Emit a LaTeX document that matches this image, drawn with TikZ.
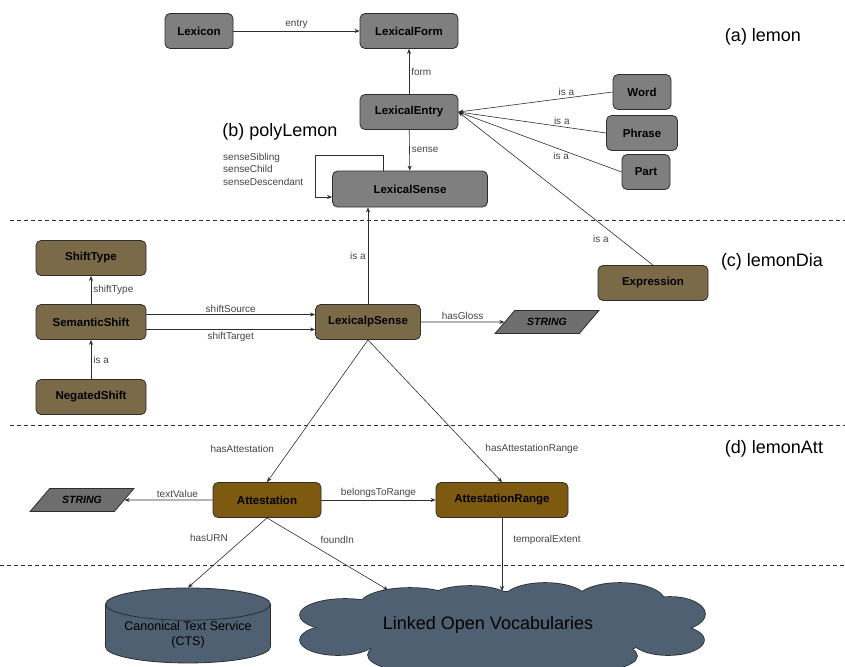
\documentclass[tikz,border=0pt]{standalone}
\usepackage{fontspec}
\setmainfont{Liberation Sans}
\usetikzlibrary{arrows.meta,positioning,calc,shapes.geometric}
\definecolor{lemongray}{HTML}{7F7F7F}
\definecolor{diabrown}{HTML}{7B6A48}
\definecolor{attbrown}{HTML}{7D5A10}
\definecolor{strgray}{HTML}{6E6E6E}
\definecolor{slate}{HTML}{4E6071}
\definecolor{edgegray}{HTML}{2E2E2E}
\definecolor{labeltext}{HTML}{454545}
% puffs of the vocabulary cloud: x/y/x radius/y radius
\newcommand\lovpuffs{502/630/150/38,410/605/50/17,470/603/45/17,545/600/42/17,
  620/602/45/19,345/615/45/16,338/640/38/15,670/614/35/17,668/640/36/15,
  430/655/62/18,565/656/72/18}
\tikzset{box/.style={draw=edgegray,line width=0.8pt,rounded corners=5pt,
  minimum height=35,align=center,font=\fontsize{11.5}{13}\selectfont\bfseries},
  lemonbox/.style={box,fill=lemongray},
  diabox/.style={box,fill=diabrown},
  attbox/.style={box,fill=attbrown},
  strbox/.style={trapezium,trapezium left angle=45,trapezium right angle=135,
  trapezium stretches=true,draw=edgegray,line width=0.8pt,fill=strgray,
  minimum width=104,minimum height=23,font=\fontsize{10.5}{12}\selectfont\bfseries\itshape},
  flow/.style={-{Stealth[length=5pt,width=4pt]},line width=0.6pt,draw=edgegray},
  lbl/.style={font=\fontsize{10}{12.5}\selectfont,text=labeltext,inner sep=2pt},
  title/.style={font=\fontsize{18}{20}\selectfont},
  divider/.style={draw=edgegray,line width=0.7pt,dash pattern=on 4pt off 3pt}}

\begin{document}
\begin{tikzpicture}[x=1pt,y=-1pt]
\fill[white] (0,0) rectangle (845,666);
\useasboundingbox (0,0) rectangle (845,666);
% section dividers
\draw[divider] (10,220) -- (845,220);
\draw[divider] (10,425) -- (845,425);
\draw[divider] (0,565) -- (845,565);
% (a) lemon / (b) polyLemon
\node[lemonbox,minimum width=68] (lexicon) at (199,31) {Lexicon};
\node[lemonbox,minimum width=98] (lexform) at (409,31) {LexicalForm};
\node[lemonbox,minimum width=98] (lexentry) at (409,112) {LexicalEntry};
\node[lemonbox,minimum width=58] (word) at (642,92) {Word};
\node[lemonbox,minimum width=71] (phrase) at (642,133) {Phrase};
\node[lemonbox,minimum width=48] (part) at (646,172) {Part};
\node[lemonbox,minimum width=155,minimum height=36] (lexsense) at (410,189) {LexicalSense};
\node[title] (tlemon) at (763,37) {(a) lemon};
\node[title] (tpoly) at (280,132) {(b) polyLemon};
\node[lbl,align=left,anchor=north west] (senselist) at (221,151) {senseSibling\\senseChild\\senseDescendant};
\coordinate (loopcorner) at (315,155);
% (c) lemonDia
\node[diabox,minimum width=110] (shifttype) at (91,258) {ShiftType};
\node[diabox,minimum width=110] (semshift) at (91,322) {SemanticShift};
\node[diabox,minimum width=110] (negshift) at (91,397) {NegatedShift};
\node[diabox,minimum width=105] (lpsense) at (368,322) {LexicalpSense};
\node[diabox,minimum width=110] (expression) at (653,283) {Expression};
\node[strbox] (gloss) at (547,322) {STRING};
\node[title] (tdia) at (772,262) {(c) lemonDia};
% (d) lemonAtt
\node[attbox,minimum width=108] (attest) at (267,500) {Attestation};
\node[attbox,minimum width=132] (range) at (502,500) {AttestationRange};
\node[strbox] (textval) at (82,500) {STRING};
\node[title] (tatt) at (774,449) {(d) lemonAtt};
% external resources
\node[cylinder,shape border rotate=90,aspect=0.25,draw=edgegray,line width=0.8pt,
  fill=slate,minimum width=165,minimum height=50,inner sep=1pt,align=center,
  font=\fontsize{12.5}{15}\selectfont] (cts) at (188,635) {Canonical Text Service\\(CTS)};
\foreach \cx/\cy/\rx/\ry in \lovpuffs
  \draw[edgegray,line width=1.6pt] (\cx,\cy) ellipse [x radius=\rx,y radius=\ry];
\foreach \cx/\cy/\rx/\ry in \lovpuffs
  \fill[slate] (\cx,\cy) ellipse [x radius=\rx,y radius=\ry];
\node[font=\fontsize{18}{20}\selectfont] (lov) at (488,625) {Linked Open Vocabularies};
\coordinate (lovleft) at (388,590);
\coordinate (lovtop) at (502,591);
% connectors
\draw[flow] (lexicon) -- node[lbl,above]{entry} (lexform);
\draw[flow] (lexentry) -- node[lbl,right]{form} (lexform);
\draw[flow] (lexentry) -- node[lbl,right]{sense} (lexsense);
\foreach \s/\p/\q in {word/above/0.3,phrase/above/0.3,part/below/0.37}
\draw[flow] (\s.west) -- node[lbl,\p,pos=\q]{is a} (lexentry.east);
\draw[flow] (expression.north) -- node[lbl,left=9pt,pos=0.17]{is a} (lexentry.east);
\draw[flow] ([xshift=-27pt]lexsense.north) |- (loopcorner) |- ([yshift=-8pt]lexsense.west);
\draw[flow] (lpsense.north) -- node[lbl,left]{is a} (lpsense.north |- lexsense.south);
\draw[flow] (semshift) -- node[lbl,right]{shiftType} (shifttype);
\draw[flow] (negshift) -- node[lbl,right]{is a} (semshift);
\draw[flow] ([yshift=7.5pt]semshift.east) -- node[lbl,above]{shiftSource} ([yshift=7.5pt]lpsense.west);
\draw[flow] ([yshift=-7.5pt]semshift.east) -- node[lbl,below]{shiftTarget} ([yshift=-7.5pt]lpsense.west);
\draw[flow] (lpsense) -- node[lbl,above]{hasGloss} (gloss);
\draw[flow] (lpsense.south) -- node[lbl,left=14pt,pos=0.77]{hasAttestation} (attest.north);
\draw[flow] (lpsense.south) -- node[lbl,right=12pt,pos=0.77]{hasAttestationRange} (range.north);
\draw[flow] (attest) -- node[lbl,above,pos=0.4]{textValue} (textval);
\draw[flow] (attest) -- node[lbl,above]{belongsToRange} (range);
\draw[flow] (attest.south) -- node[lbl,left=14pt,pos=0.29]{hasURN} (cts.north);
\draw[flow] (attest.south) -- node[lbl,right=15pt,pos=0.3]{foundIn} (lovleft);
\draw[flow] (range.south) -- node[lbl,right=9pt,pos=0.3]{temporalExtent} (lovtop);
\end{tikzpicture}
\end{document}
